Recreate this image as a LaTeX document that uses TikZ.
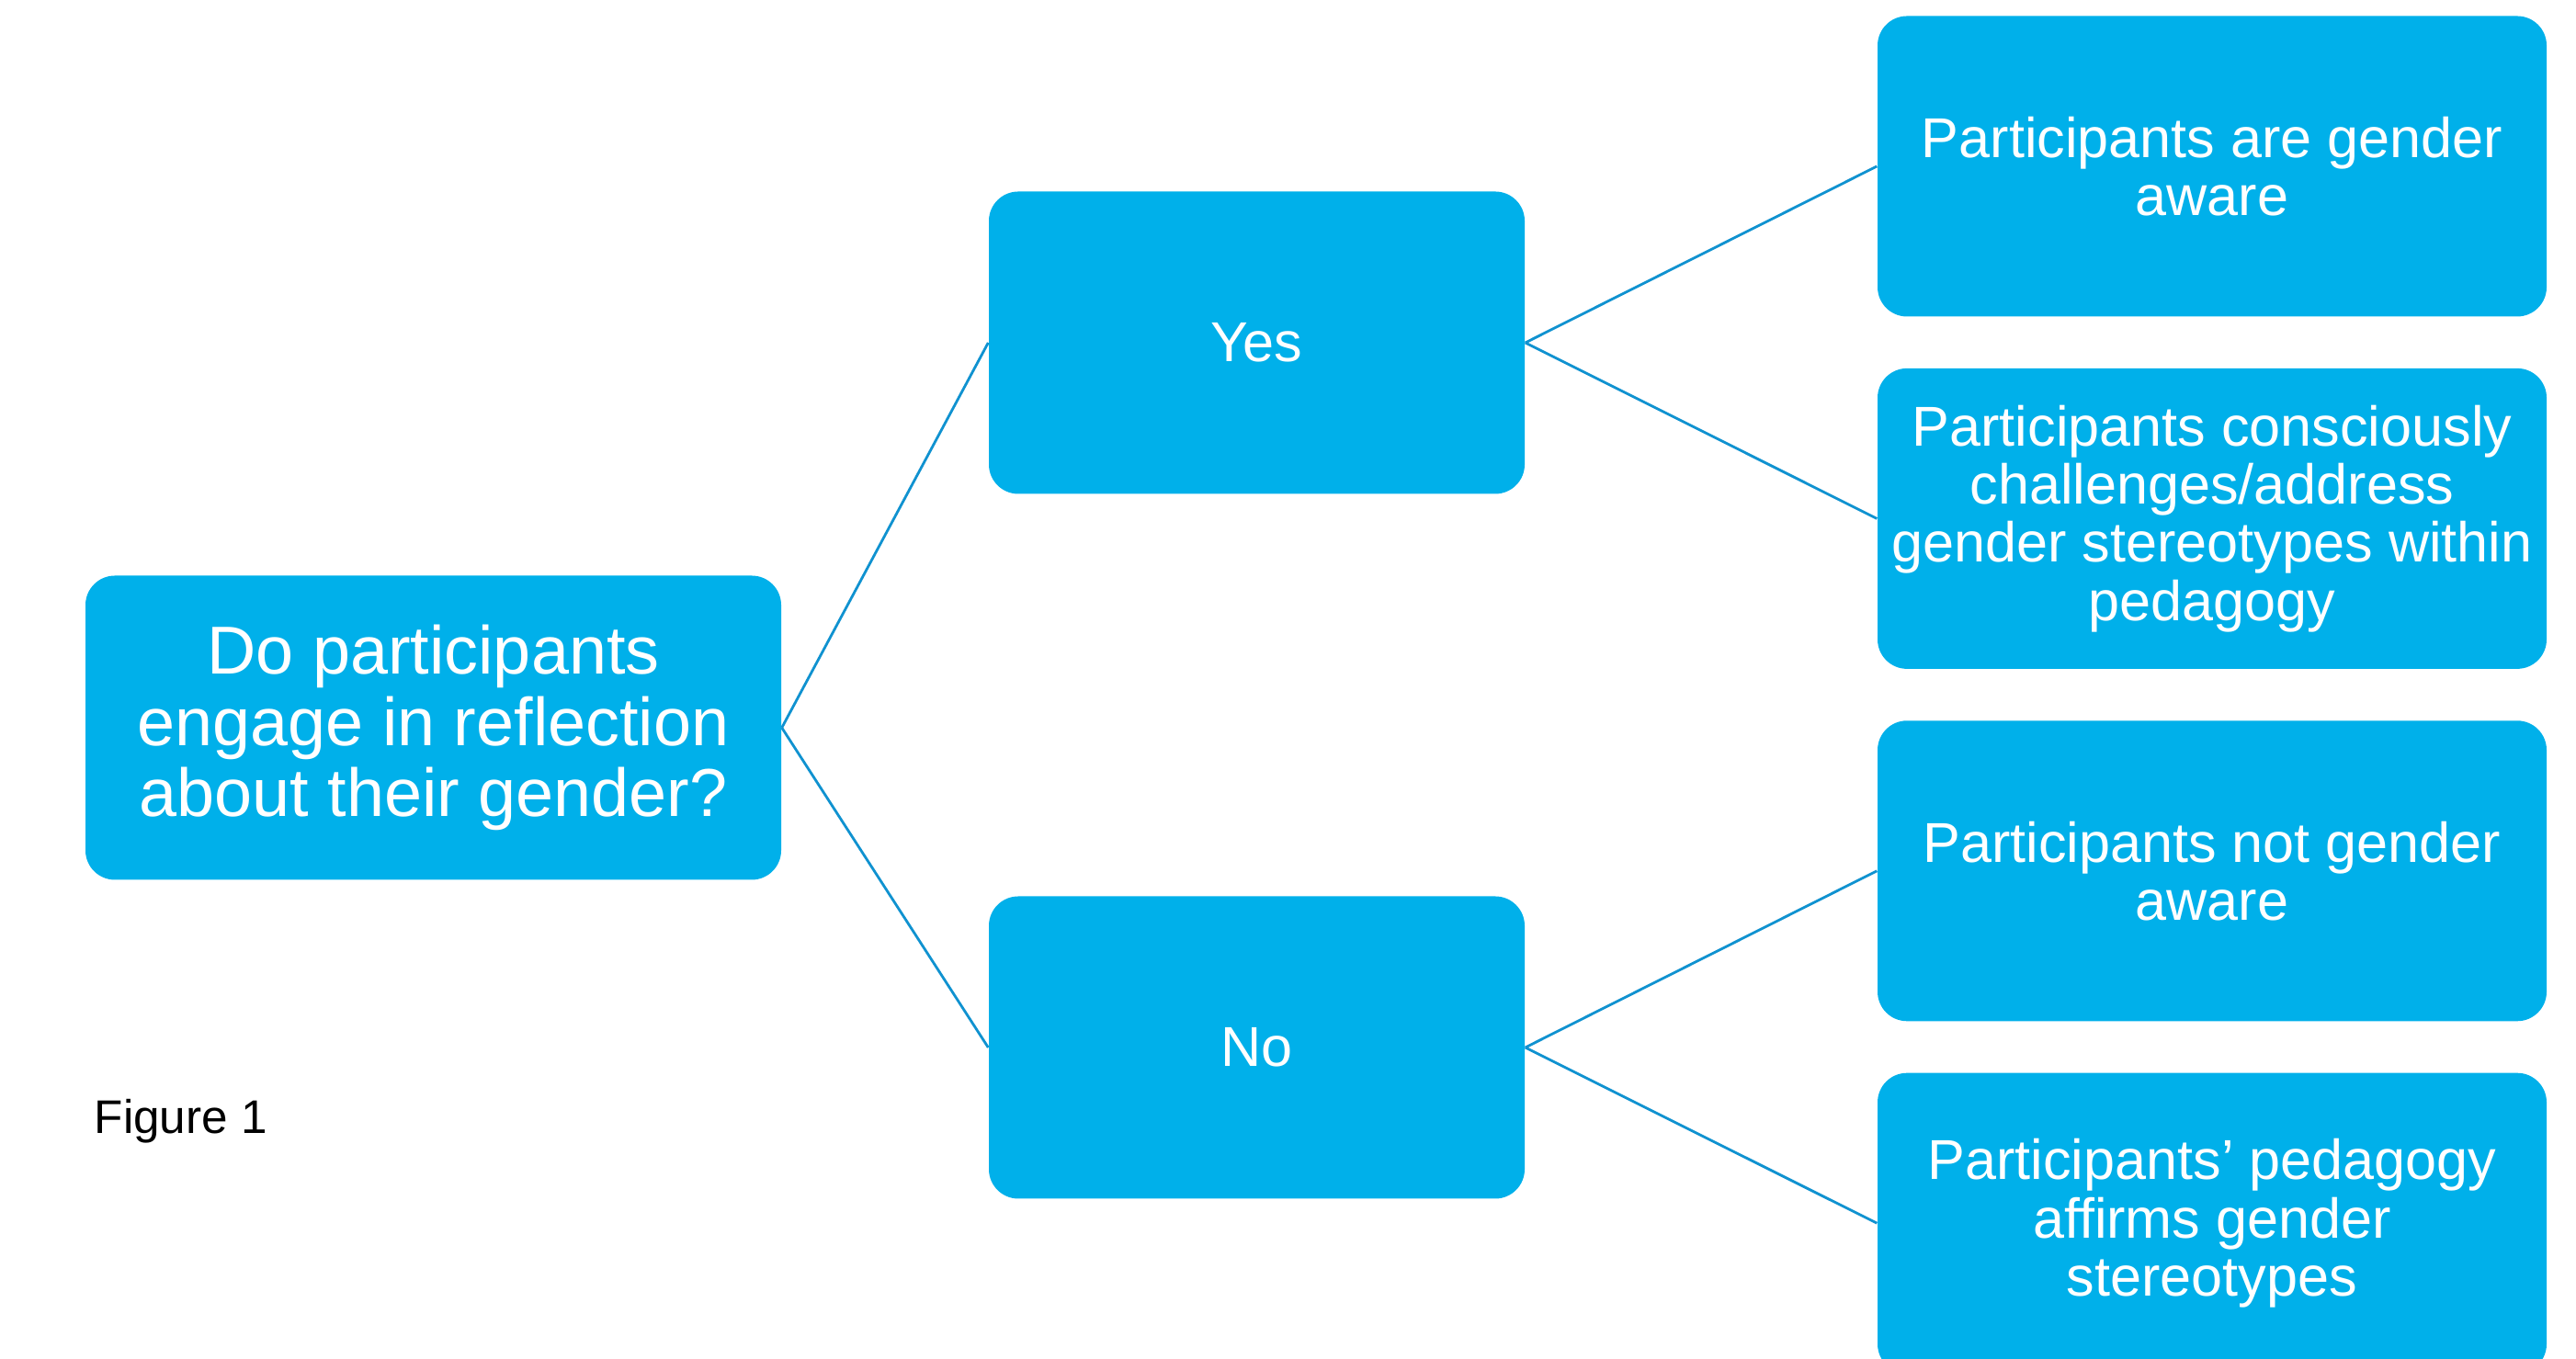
\documentclass[tikz,border=0pt]{standalone}
\usepackage{fontspec}
\setmainfont{Liberation Sans}
\usetikzlibrary{positioning}

\definecolor{boxblue}{RGB}{0,176,234}
\definecolor{linkblue}{RGB}{16,146,208}

\begin{document}
\begin{tikzpicture}[
    box/.style={fill=boxblue, text=white, rounded corners=0.32cm, align=center, inner sep=2pt},
    rootbox/.style={box, minimum width=7.57cm, minimum height=3.31cm, font=\fontsize{21}{22}\selectfont},
    midbox/.style={box, minimum width=5.83cm, minimum height=3.29cm, font=\fontsize{17.4}{18}\selectfont},
    leafbox/.style={box, minimum width=7.28cm, minimum height=3.27cm, font=\fontsize{17.4}{18}\selectfont},
    link/.style={draw=linkblue, line width=0.8pt}]
  \useasboundingbox (0,0) rectangle (28.03,14.79);
  \clip (0,0) rectangle (28.03,14.79);

  % question and the two answers
  \node[rootbox] (question) at (4.715,6.87) {Do participants\\engage in reflection\\about their gender?};
  \node[midbox] (yes) at (13.675,11.06) {Yes};
  \node[midbox] (no) at (13.675,3.39) {No};

  % outcomes
  \node[leafbox] (aware) at (24.07,12.98) {Participants are gender\\aware};
  \node[leafbox, below=0.55cm of aware] (challenge) {Participants consciously\\challenges/address\\gender stereotypes within\\pedagogy};
  \node[leafbox, below=0.55cm of challenge] (notaware) {Participants not gender\\aware};
  \node[leafbox, below=0.55cm of notaware] (affirm) {Participants’ pedagogy\\affirms gender\\stereotypes};

  \node[anchor=base west, inner sep=0pt, font=\fontsize{14.6}{16}\selectfont] (figlabel) at (1.02,2.45) {Figure 1};

  \foreach \a/\b in {question/yes, question/no, yes/aware, yes/challenge, no/notaware, no/affirm} {
    \draw[link] (\a.east) -- (\b.west);
  }
\end{tikzpicture}
\end{document}
